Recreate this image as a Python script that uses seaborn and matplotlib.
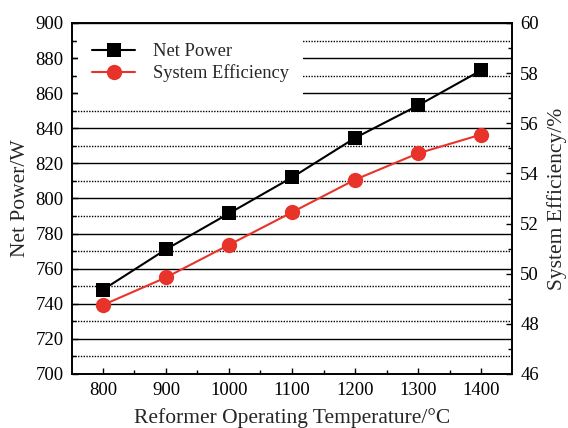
import matplotlib
matplotlib.use("Agg")
import matplotlib.pyplot as plt
import pandas as pd
import seaborn as sns
from matplotlib.ticker import MultipleLocator

temperature = [800, 900, 1000, 1100, 1200, 1300, 1400]
net_power = [748, 771, 791.5, 812, 834.5, 853, 873]
efficiency = [48.75, 49.85, 51.15, 52.45, 53.75, 54.8, 55.55]

data = pd.DataFrame({"temperature": temperature, "net_power": net_power, "efficiency": efficiency})

sns.set_theme(style="ticks")
plt.rcParams["font.family"] = ["Liberation Serif", "DejaVu Serif"]

fig = plt.figure(figsize=(5.68, 4.28), dpi=100)
ax = fig.add_axes([0.1268, 0.1262, 0.7746, 0.8201])
ax2 = ax.twinx()

sns.lineplot(data=data, x="temperature", y="net_power", ax=ax, color="black", marker="s",
             markersize=9.5, markeredgewidth=0, linewidth=1.5, label="Net Power", legend=False)
sns.lineplot(data=data, x="temperature", y="efficiency", ax=ax2, color="#e8332b", marker="o",
             markersize=11, markeredgewidth=0, linewidth=1.5, label="System Efficiency", legend=False)

ax.set(xlim=(751, 1449), ylim=(700, 900))
ax2.set_ylim(46, 60)
ax.xaxis.set_major_locator(MultipleLocator(100))
ax.xaxis.set_minor_locator(MultipleLocator(50))
ax.yaxis.set_major_locator(MultipleLocator(20))
ax.yaxis.set_minor_locator(MultipleLocator(10))
ax2.yaxis.set_major_locator(MultipleLocator(2))
ax2.yaxis.set_minor_locator(MultipleLocator(1))

ax.grid(which="major", axis="y", color="black", linewidth=1.0, linestyle="-")
ax.grid(which="minor", axis="y", color="black", linewidth=1.0, linestyle=(0, (1, 1)))
ax.set_axisbelow(True)

for a in (ax, ax2):
    a.tick_params(which="both", direction="in", labelsize=13.5, colors="black", pad=6)
    a.tick_params(which="major", length=4, width=1)
    a.tick_params(which="minor", length=3, width=1)
    for s in a.spines.values():
        s.set_linewidth(1.2)
        s.set_color("black")
ax.tick_params(axis="y", right=False, which="both")

ax.set_xlabel("Reformer Operating Temperature/°C", fontsize=15.5, labelpad=6)
ax.set_ylabel("Net Power/W", fontsize=15.5, labelpad=4)
ax2.set_ylabel("System Efficiency/%", fontsize=15.5, labelpad=6)

handles = ax.lines[:1] + ax2.lines[:1]
leg = ax2.legend(handles, ["Net Power", "System Efficiency"], loc="upper left", fontsize=13.3,
                 frameon=True, fancybox=False, framealpha=1, facecolor="white", edgecolor="white",
                 borderaxespad=0.35, handlelength=2.3, handletextpad=1.0, labelspacing=0.22,
                 borderpad=0.75)
leg.get_frame().set_linewidth(0)

fig.savefig("out.png", dpi=100)
